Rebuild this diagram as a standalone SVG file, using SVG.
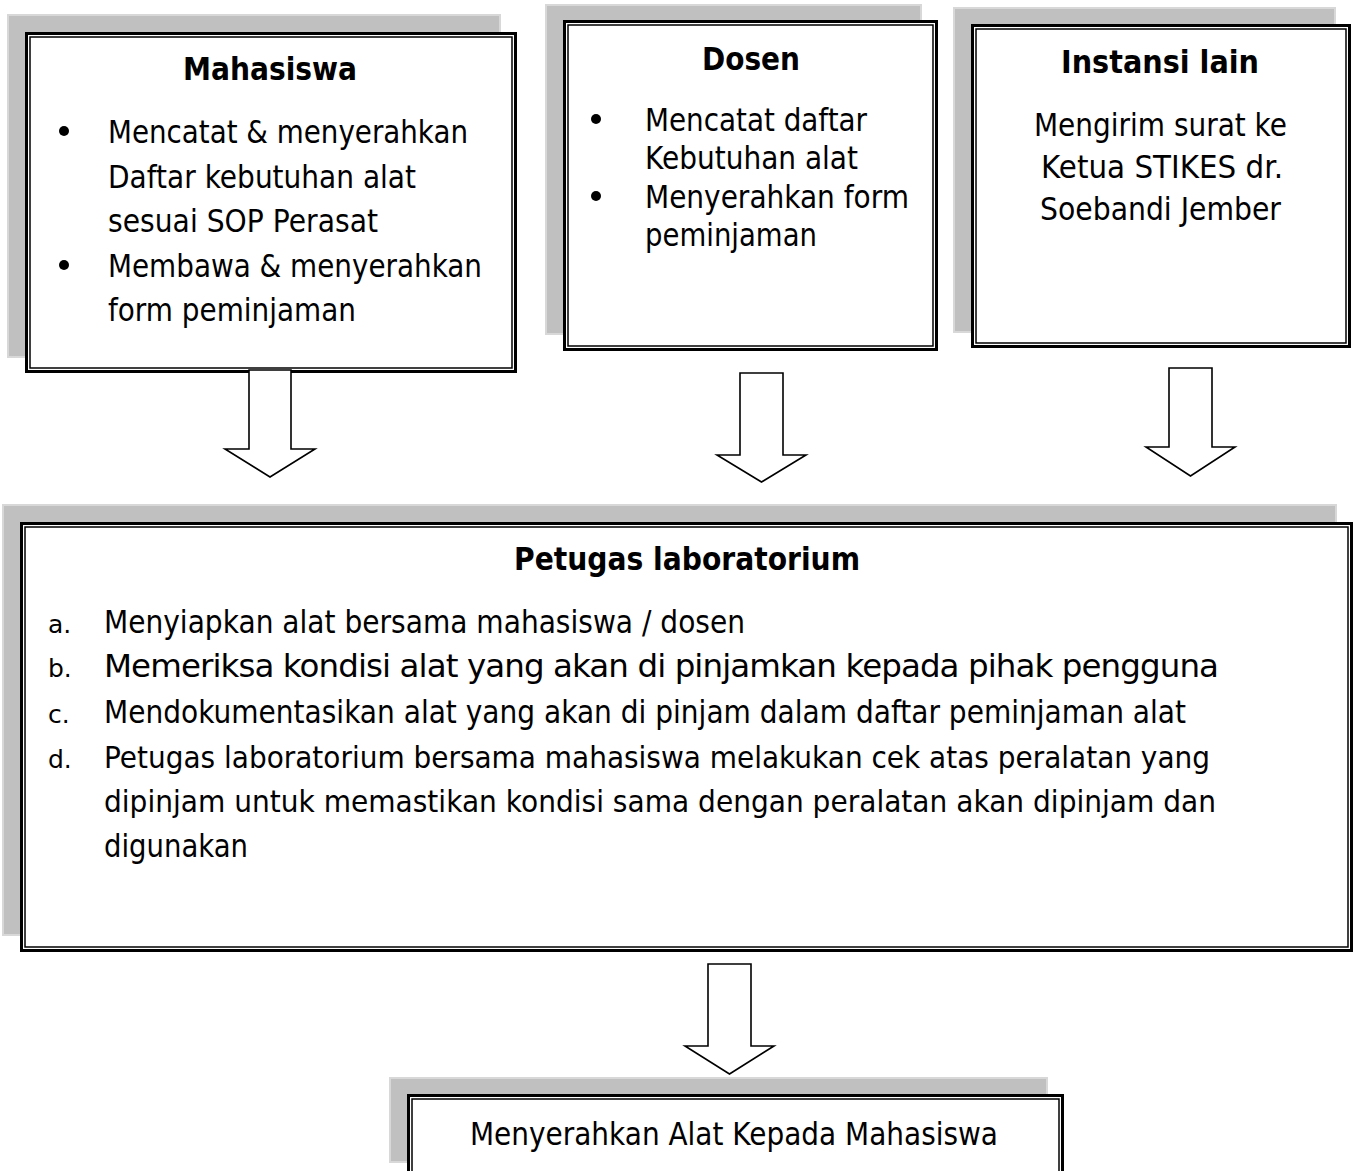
<svg xmlns="http://www.w3.org/2000/svg" width="1358" height="1171" viewBox="0 0 1358 1171">
<style>
.bg{fill:#ffffff}
.shadow{fill:#c0c0c0;stroke:#d8d8d8;stroke-width:2}
.outer{fill:#ffffff;stroke:#000000;stroke-width:3}
.inner{fill:none;stroke:#000000;stroke-width:1.5}
.t{font-family:"DejaVu Sans","Liberation Sans",sans-serif;font-size:32.5px;fill:#000000}
.t2{font-family:"DejaVu Sans","Liberation Sans",sans-serif;font-size:31px;fill:#000000}
.b{font-family:"DejaVu Sans","Liberation Sans",sans-serif;font-size:32px;font-weight:bold;fill:#000000}
.lbl{font-family:"DejaVu Sans","Liberation Sans",sans-serif;font-size:25px;fill:#000000}
.c{text-anchor:middle}
.arrow{fill:#ffffff;stroke:#000000;stroke-width:1.6;stroke-linejoin:miter}
</style>
<rect class="bg" x="0" y="0" width="1358" height="1171"/>

<g id="mahasiswa">
  <rect class="shadow" x="8" y="15" width="492" height="342"/>
  <rect class="outer" x="26.5" y="33.5" width="489" height="338"/>
  <rect class="inner" x="30" y="37" width="482" height="331"/>
  <text class="b c" x="270" y="80" textLength="174" lengthAdjust="spacingAndGlyphs">Mahasiswa</text>
  <circle cx="64" cy="131" r="5"/>
  <circle cx="64" cy="265" r="5"/>
  <text class="t" x="108" y="143" textLength="360" lengthAdjust="spacingAndGlyphs">Mencatat &amp; menyerahkan</text>
  <text class="t" x="108" y="187.5" textLength="308" lengthAdjust="spacingAndGlyphs">Daftar kebutuhan alat</text>
  <text class="t" x="108" y="232" textLength="270" lengthAdjust="spacingAndGlyphs">sesuai SOP Perasat</text>
  <text class="t" x="108" y="277" textLength="374" lengthAdjust="spacingAndGlyphs">Membawa &amp; menyerahkan</text>
  <text class="t" x="108" y="321" textLength="248" lengthAdjust="spacingAndGlyphs">form peminjaman</text>
</g>

<g id="dosen">
  <rect class="shadow" x="546" y="5" width="375" height="329"/>
  <rect class="outer" x="564.5" y="21.5" width="372" height="328"/>
  <rect class="inner" x="568" y="25" width="365" height="321"/>
  <text class="b c" x="751" y="70" textLength="98" lengthAdjust="spacingAndGlyphs">Dosen</text>
  <circle cx="596" cy="119" r="5"/>
  <circle cx="596" cy="196" r="5"/>
  <text class="t" x="645" y="131" textLength="222" lengthAdjust="spacingAndGlyphs">Mencatat daftar</text>
  <text class="t" x="645" y="169" textLength="213" lengthAdjust="spacingAndGlyphs">Kebutuhan alat</text>
  <text class="t" x="645" y="208" textLength="264" lengthAdjust="spacingAndGlyphs">Menyerahkan form</text>
  <text class="t" x="645" y="246" textLength="172" lengthAdjust="spacingAndGlyphs">peminjaman</text>
</g>

<g id="instansi">
  <rect class="shadow" x="954" y="8" width="381" height="324"/>
  <rect class="outer" x="972.5" y="25.5" width="377" height="321"/>
  <rect class="inner" x="976" y="29" width="370" height="314"/>
  <text class="b c" x="1160" y="72.5" textLength="198" lengthAdjust="spacingAndGlyphs">Instansi lain</text>
  <text class="t c" x="1160.5" y="136" textLength="253" lengthAdjust="spacingAndGlyphs">Mengirim surat ke</text>
  <text class="t c" x="1162" y="178" textLength="242" lengthAdjust="spacingAndGlyphs">Ketua STIKES dr.</text>
  <text class="t c" x="1160.5" y="220" textLength="241" lengthAdjust="spacingAndGlyphs">Soebandi Jember</text>
</g>

<g id="petugas">
  <rect class="shadow" x="3" y="505" width="1333" height="430"/>
  <rect class="outer" x="21.5" y="523.5" width="1330" height="427"/>
  <rect class="inner" x="25" y="527" width="1323" height="420"/>
  <text class="b c" x="687" y="569.5" textLength="346" lengthAdjust="spacingAndGlyphs">Petugas laboratorium</text>
  <text class="lbl" x="48" y="632.5">a.</text>
  <text class="lbl" x="48" y="676.5">b.</text>
  <text class="lbl" x="48" y="722.5">c.</text>
  <text class="lbl" x="48" y="767.5">d.</text>
  <text class="t" x="104" y="633" textLength="641" lengthAdjust="spacingAndGlyphs">Menyiapkan alat bersama mahasiswa / dosen</text>
  <text class="t" x="104" y="677" textLength="1115" lengthAdjust="spacing">Memeriksa kondisi alat yang akan di pinjamkan kepada pihak pengguna</text>
  <text class="t" x="104" y="723" textLength="1082" lengthAdjust="spacingAndGlyphs">Mendokumentasikan alat yang akan di pinjam dalam daftar peminjaman alat</text>
  <text class="t2" x="104" y="768" textLength="1106" lengthAdjust="spacingAndGlyphs">Petugas laboratorium bersama mahasiswa melakukan cek atas peralatan yang</text>
  <text class="t2" x="104" y="812" textLength="1112" lengthAdjust="spacingAndGlyphs">dipinjam untuk memastikan kondisi sama dengan peralatan akan dipinjam dan</text>
  <text class="t" x="104" y="857" textLength="144" lengthAdjust="spacingAndGlyphs">digunakan</text>
</g>

<g id="menyerahkan">
  <rect class="shadow" x="390" y="1078" width="657" height="84"/>
  <rect class="outer" x="408.5" y="1095.5" width="654" height="90"/>
  <rect class="inner" x="412" y="1099" width="647" height="83"/>
  <text class="t c" x="734" y="1145" textLength="528" lengthAdjust="spacingAndGlyphs">Menyerahkan Alat Kepada Mahasiswa</text>
</g>

<g id="connectors">
  <polygon class="arrow" points="249,370 291,370 291,449 315,449 270,477 225,449 249,449"/>
  <polygon class="arrow" points="740,373 783,373 783,455 806,455 761.5,482 717,455 740,455"/>
  <polygon class="arrow" points="1169,368 1212,368 1212,447 1235,447 1190.5,476 1146,447 1169,447"/>
  <polygon class="arrow" points="708,964 751,964 751,1046 774,1046 729.5,1074 685,1046 708,1046"/>
</g>
</svg>
